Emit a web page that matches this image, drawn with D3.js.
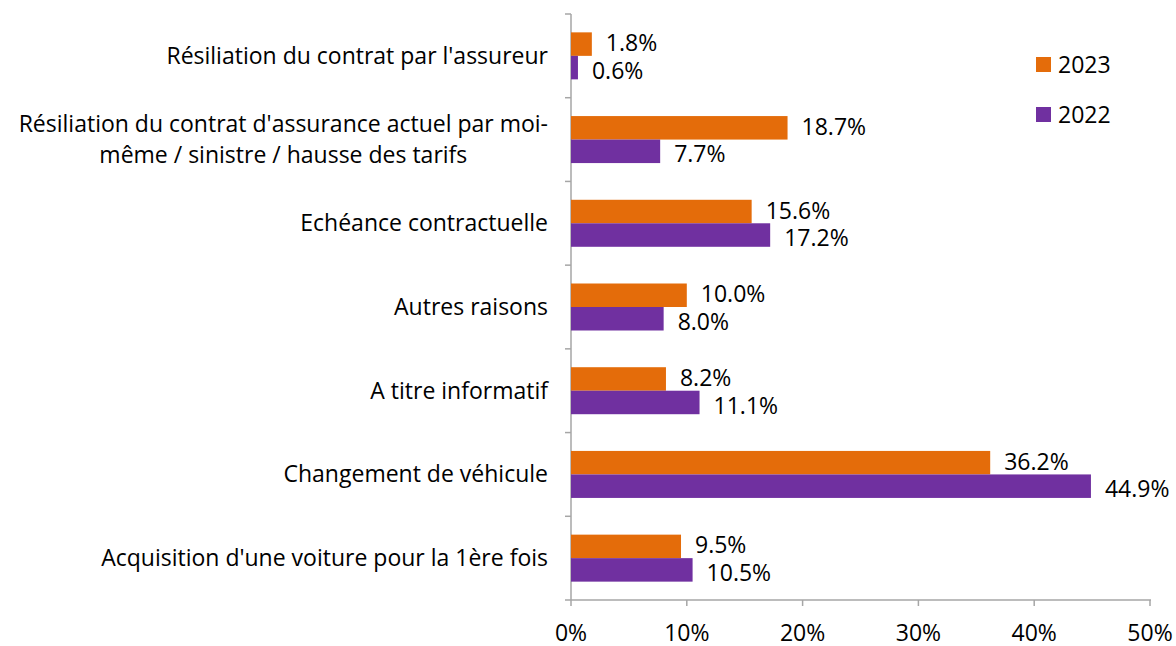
<!DOCTYPE html>
<html>
<head>
<meta charset="utf-8">
<script src="https://cdn.jsdelivr.net/npm/d3@7"></script>
<style>
  body { margin: 0; background: #fff; }
  text { font-family: "Open Sans", Lato, sans-serif; fill: #000; }
</style>
</head>
<body>
<svg width="1176" height="646"></svg>
<script>
// categories, top to bottom; labels split into lines
var categories = [
  ["Résiliation du contrat par l'assureur"],
  ["Résiliation du contrat d'assurance actuel par moi-", "même / sinistre / hausse des tarifs"],
  ["Echéance contractuelle"],
  ["Autres raisons"],
  ["A titre informatif"],
  ["Changement de véhicule"],
  ["Acquisition d'une voiture pour la 1ère fois"]
];
var series = ["2023", "2022"];
var values2023 = [1.8, 18.7, 15.6, 10.0, 8.2, 36.2, 9.5];
var values2022 = [0.6, 7.7, 17.2, 8.0, 11.1, 44.9, 10.5];
var xTicks = [0, 10, 20, 30, 40, 50];
var colors = {"2023": "#E46C0A", "2022": "#7030A0"};

var svg = d3.select("svg"),
    plotLeft = 571, plotRight = 1150, plotTop = 14, plotBottom = 600,
    fs = 23;

var keys = categories.map(function(d, i) { return i; });

var x = d3.scaleLinear().domain([0, 50]).range([plotLeft, plotRight]);
var y = d3.scaleBand().domain(keys).range([plotTop, plotBottom]);
var inner = d3.scaleBand().domain(series).range([0, 47]);
var off = (y.bandwidth() - 47) / 2;

var rows = keys.map(function(i) {
  return [
    {key: i, s: "2023", v: values2023[i]},
    {key: i, s: "2022", v: values2022[i]}
  ];
});

// axes
var axisColor = "#A6A6A6";
var gx = svg.append("g").attr("transform", "translate(0," + plotBottom + ")");
gx.append("line").attr("x1", plotLeft).attr("x2", plotRight + 1)
    .attr("stroke", axisColor).attr("stroke-width", 1.5);
gx.selectAll(".tick").data(xTicks).enter().append("line")
    .attr("x1", function(d) { return x(d); }).attr("x2", function(d) { return x(d); })
    .attr("y1", 0).attr("y2", 6)
    .attr("stroke", axisColor).attr("stroke-width", 1.5);
gx.selectAll(".lbl").data(xTicks).enter().append("text")
    .attr("x", function(d) { return x(d); })
    .attr("y", 33)
    .attr("dy", "0.35em")
    .attr("text-anchor", "middle")
    .attr("font-size", fs)
    .text(function(d) { return d + "%"; });

var gy = svg.append("g");
gy.append("line").attr("x1", plotLeft).attr("x2", plotLeft)
    .attr("y1", plotTop).attr("y2", plotBottom)
    .attr("stroke", axisColor).attr("stroke-width", 1.5);
var yTicks = keys.map(function(k) { return y(k); }).concat([plotBottom]);
gy.selectAll(".tick").data(yTicks).enter().append("line")
    .attr("x1", plotLeft - 6).attr("x2", plotLeft)
    .attr("y1", function(d) { return d; }).attr("y2", function(d) { return d; })
    .attr("stroke", axisColor).attr("stroke-width", 1.5);

// category labels
var labelRight = 548;
keys.forEach(function(i) {
  var lines = categories[i];
  var cy = y(i) + y.bandwidth() / 2;
  var g = svg.append("g");
  var lh = 31;
  var texts = lines.map(function(l, j) {
    return g.append("text")
        .attr("y", cy + (j - (lines.length - 1) / 2) * lh)
        .attr("dy", "0.35em")
        .attr("font-size", fs)
        .attr("text-anchor", "middle")
        .text(l);
  });
  var maxW = d3.max(texts, function(t) { return t.node().getComputedTextLength(); });
  texts.forEach(function(t) { t.attr("x", labelRight - maxW / 2); });
});

// bars
var groups = svg.selectAll(".cat").data(rows).enter().append("g")
    .attr("transform", function(d, i) { return "translate(0," + (y(i) + off) + ")"; });

groups.selectAll("rect").data(function(d) { return d; }).enter().append("rect")
    .attr("x", x(0))
    .attr("y", function(d) { return inner(d.s); })
    .attr("width", function(d) { return x(d.v) - x(0); })
    .attr("height", inner.bandwidth())
    .attr("fill", function(d) { return colors[d.s]; });

groups.selectAll("text").data(function(d) { return d; }).enter().append("text")
    .attr("x", function(d) { return x(d.v) + 14; })
    .attr("y", function(d) { return inner(d.s) + inner.bandwidth() / 2 + (d.s === "2023" ? -1 : 3); })
    .attr("dy", "0.35em")
    .attr("font-size", fs)
    .text(function(d) { return d.v.toFixed(1) + "%"; });

// legend
var legend = svg.append("g").attr("transform", "translate(1036,57)");
series.forEach(function(s, i) {
  var row = legend.append("g").attr("transform", "translate(0," + (i * 50) + ")");
  row.append("rect").attr("width", 15).attr("height", 15).attr("fill", colors[s]);
  row.append("text").attr("x", 22).attr("y", 8).attr("dy", "0.35em")
      .attr("font-size", fs).text(s);
});
</script>
</body>
</html>
